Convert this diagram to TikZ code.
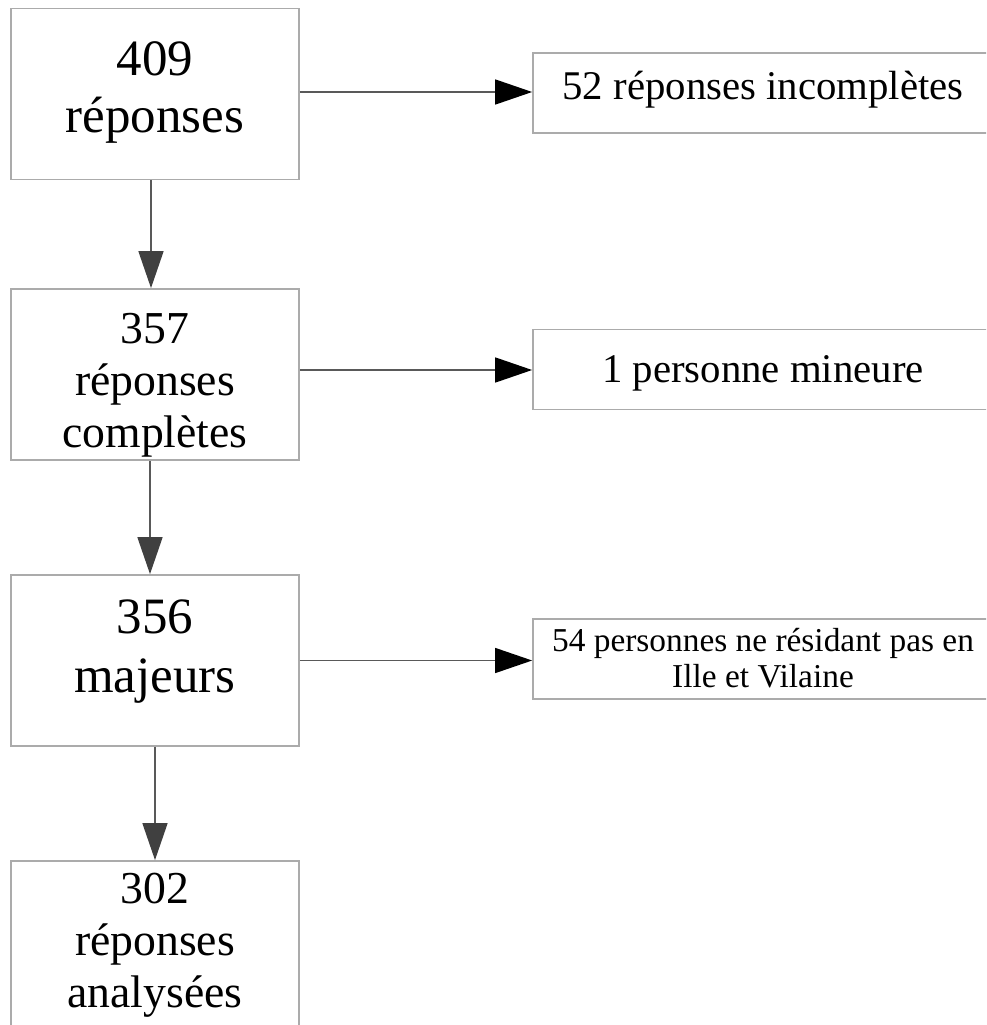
\documentclass[tikz,border=0pt]{standalone}
\usepackage{fontspec}
\setmainfont{Liberation Serif}
\usetikzlibrary{arrows.meta,positioning,calc}

\begin{document}
\begin{tikzpicture}[
  stage/.style={draw=black!33,line width=0.035cm,minimum width=5.76cm,minimum height=3.42cm,align=center,inner sep=0pt},
  drop/.style={draw=black!33,line width=0.035cm,minimum width=9.2cm,minimum height=1.6cm,align=center,inner sep=0pt},
  down/.style={draw=black!65,line width=0.03cm,-{Triangle[length=0.74cm,width=0.5cm,color=black!75]}},
  side/.style={draw=black!65,line width=0.03cm,-{Triangle[length=0.74cm,width=0.5cm,color=black]}}
]
\clip (0,0) rectangle (19.72,-20.5);
% left column
\node[stage,font=\fontsize{29}{33}\selectfont,text height=1.9cm,text depth=0.34cm] (r409) at (3.10,-1.88) {409\\réponses};
\node[stage,font=\fontsize{26}{29.5}\selectfont,text height=3.1cm,text depth=0.2cm] (r357) at (3.10,-7.49) {357\\réponses\\complètes};
\node[stage,font=\fontsize{29}{33.4}\selectfont,text height=1.6cm,text depth=0.34cm] (r356) at (3.10,-13.21) {356\\majeurs};
\node[stage,font=\fontsize{26}{29.5}\selectfont,text height=2.7cm,text depth=0.28cm] (r302) at (3.10,-18.93) {302\\réponses\\analysées};
% right column
\node[drop,font=\fontsize{23.2}{26}\selectfont,text height=0.55cm,text depth=0.27cm] (n52) at (15.26,-1.86) {52 réponses incomplètes};
\node[drop,font=\fontsize{23.2}{26}\selectfont,text height=0.7cm,text depth=0.2cm] (n1) at (15.26,-7.39) {1 personne mineure};
\node[drop,font=\fontsize{19}{20.4}\selectfont,text height=1.3cm,text depth=0.18cm] (n54) at (15.26,-13.18) {54 personnes ne résidant pas en\\Ille et Vilaine};
% arrows
\draw[down] ([xshift=-0.08cm]r409.south) -- ([xshift=-0.08cm]r357.north);
\draw[down] ([xshift=-0.1cm]r357.south) -- ([xshift=-0.1cm]r356.north);
\draw[down] (r356.south) -- (r302.north);
\draw[side] ([yshift=0.04cm]r409.east) -- ([yshift=0.04cm]r409.east -| n52.west);
\draw[side] ([yshift=0.09cm]r357.east) -- ([yshift=0.09cm]r357.east -| n1.west);
\draw[side] (r356.east) -- (r356.east -| n54.west);
\end{tikzpicture}
\end{document}
